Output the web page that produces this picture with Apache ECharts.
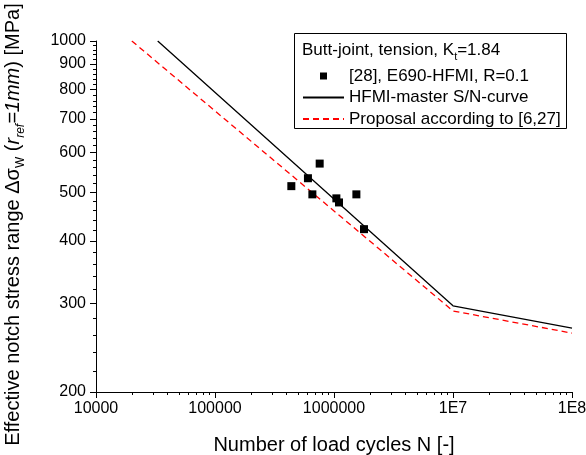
<!DOCTYPE html>
<html><head><meta charset="utf-8">
<script src="https://cdn.jsdelivr.net/npm/echarts@6/dist/echarts.min.js"></script>
<style>html,body{margin:0;padding:0;background:#fff}#c{width:586px;height:455px}</style>
</head><body><div id="c"></div>
<script>
const FONT = "'Liberation Sans', Arial, sans-serif";
const xTickValues = [1e4, 1e5, 1e6, 1e7, 1e8];
const xTickLabels = ['10000', '100000', '1000000', '1E7', '1E8'];
const xMinorTicks = [2e4,3e4,4e4,5e4,6e4,7e4,8e4,9e4, 2e5,3e5,4e5,5e5,6e5,7e5,8e5,9e5,
                     2e6,3e6,4e6,5e6,6e6,7e6,8e6,9e6, 2e7,3e7,4e7,5e7,6e7,7e7,8e7,9e7];
const yTickValues = [200, 300, 400, 500, 600, 700, 800, 900, 1000];
const yTickLabels = ['200', '300', '400', '500', '600', '700', '800', '900', '1000'];
const yMinorTicks = [220,240,260,280, 320,340,360,380, 420,440,460,480, 520,540,560,580,
                     620,640,660,680, 720,740,760,780, 820,840,860,880, 920,940,960,980];

const testName = '[28], E690-HFMI, R=0.1';
const testN = [438000, 604000, 658000, 758000, 1047000, 1102000, 1542000, 1786000];
const testS = [514, 533, 495, 570, 486, 477, 495, 422];

const masterName = 'HFMI-master S/N-curve';
const masterN = [33000, 1e7, 1e8];
const masterS = [1000, 297, 268];

const proposalName = 'Proposal according to [6,27]';
const proposalN = [20000, 1e7, 1e8];
const proposalS = [1000, 290, 262];

const zip = (a, b) => a.map((v, i) => [v, b[i]]);
const lg = a => a.map(v => Math.log10(v));

const X_MIN = 1e4, X_MAX = 1e8, Y_MIN = 200, Y_MAX = 1000;

// tick-only overlay axes (decoration) on the same grid, in log10 space
function tickAxis(min, max, ticks, len, pos) {
  return {
    type: 'value', min: Math.log10(min), max: Math.log10(max), position: pos,
    axisLine: {show: false}, axisLabel: {show: false}, splitLine: {show: false},
    axisTick: {show: true, length: len, inside: false, lineStyle: {color: '#000', width: 1},
               customValues: lg(ticks)}
  };
}

const chart = echarts.init(document.getElementById('c'), null, {renderer: 'canvas'});
chart.setOption({
  animation: false,
  backgroundColor: '#fff',
  textStyle: {fontFamily: FONT},
  grid: {left: 96, right: 14, top: 41, bottom: 63, outerBoundsMode: 'none', containLabel: false},
  xAxis: [{
    type: 'log', logBase: 10, min: X_MIN, max: X_MAX,
    name: 'Number of load cycles N [-]', nameLocation: 'middle', nameGap: 43,
    nameTextStyle: {fontSize: 20, color: '#000', fontFamily: FONT},
    axisLine: {lineStyle: {color: '#000', width: 1}},
    axisTick: {show: false},
    axisLabel: {color: '#000', fontSize: 16, fontFamily: FONT, margin: 9, customValues: xTickValues,
      formatter: v => { const i = xTickValues.findIndex(t => Math.abs(Math.log10(t) - Math.log10(v)) < 1e-6); return i >= 0 ? xTickLabels[i] : ''; }},
    splitLine: {show: false}, minorTick: {show: false}
  },
    tickAxis(X_MIN, X_MAX, xTickValues, 6, 'bottom'),
    tickAxis(X_MIN, X_MAX, xMinorTicks, 3, 'bottom')
  ],
  yAxis: [{
    type: 'log', logBase: 10, min: Y_MIN, max: Y_MAX,
    name: '{n|Effective notch stress range Δσ}{s|W}{n| (}{i|r}{si|ref}{i|=1mm}{n|) [MPa]}',
    nameLocation: 'middle', nameRotate: 90, nameGap: 69,
    nameTextStyle: {
      fontSize: 20, color: '#000', fontFamily: FONT, padding: [0, 16, 0, 0],
      rich: {
        n: {fontSize: 20, fontFamily: FONT, color: '#000', lineHeight: 28},
        s: {fontSize: 12, fontFamily: FONT, color: '#000', lineHeight: 12, verticalAlign: 'bottom'},
        i: {fontSize: 20, fontFamily: FONT, fontStyle: 'italic', color: '#000', lineHeight: 28},
        si: {fontSize: 12, fontFamily: FONT, fontStyle: 'italic', color: '#000', lineHeight: 12, verticalAlign: 'bottom'}
      }
    },
    axisLine: {lineStyle: {color: '#000', width: 1}},
    axisTick: {show: false},
    axisLabel: {color: '#000', fontSize: 16, fontFamily: FONT, margin: 10, customValues: yTickValues,
      formatter: v => { const i = yTickValues.findIndex(t => Math.abs(t - v) < 1e-6 * t); return i >= 0 ? yTickLabels[i] : ''; }},
    splitLine: {show: false}, minorTick: {show: false}
  },
    tickAxis(Y_MIN, Y_MAX, yTickValues, 6, 'left'),
    tickAxis(Y_MIN, Y_MAX, yMinorTicks, 3, 'left')
  ],
  legend: {
    orient: 'vertical', left: 302, top: 67.5, padding: 0,
    itemWidth: 41, itemHeight: 14, itemGap: 4.5,
    textStyle: {fontSize: 17, color: '#000', fontFamily: FONT},
    data: [
      {name: testName, icon: 'path://M0,0M41,14M17,3.5h7v7h-7z', itemStyle: {color: '#000', opacity: 1}},
      {name: masterName, itemStyle: {opacity: 0, borderWidth: 0}},
      {name: proposalName, itemStyle: {opacity: 0, borderWidth: 0}}
    ]
  },
  graphic: [
    {type: 'rect', shape: {x: 294.5, y: 33.5, width: 272, height: 95},
     style: {fill: '#fff', stroke: '#000', lineWidth: 1}, z: 1},
    {type: 'text', x: 302, y: 50, z: 2,
     style: {
       text: '{n|Butt-joint, tension, K}{s|t}{n|=1.84}',
       verticalAlign: 'middle',
       rich: {
         n: {fontSize: 17, fontFamily: FONT, fill: '#000', lineHeight: 24},
         s: {fontSize: 11, fontFamily: FONT, fill: '#000', lineHeight: 10, verticalAlign: 'bottom'}
       }
     }}
  ],
  series: [
    {name: masterName, type: 'line', data: zip(masterN, masterS), symbol: 'none',
     lineStyle: {color: '#000', width: 1.3}, itemStyle: {color: '#000'}, z: 3},
    {name: proposalName, type: 'line', data: zip(proposalN, proposalS), symbol: 'none',
     lineStyle: {color: '#ff0000', width: 1.3, type: [6, 4]}, itemStyle: {color: '#ff0000'}, z: 3},
    {name: testName, type: 'scatter', data: zip(testN, testS), symbol: 'rect', symbolSize: 8,
     itemStyle: {color: '#000', opacity: 1}, z: 4}
  ]
});
</script></body></html>
